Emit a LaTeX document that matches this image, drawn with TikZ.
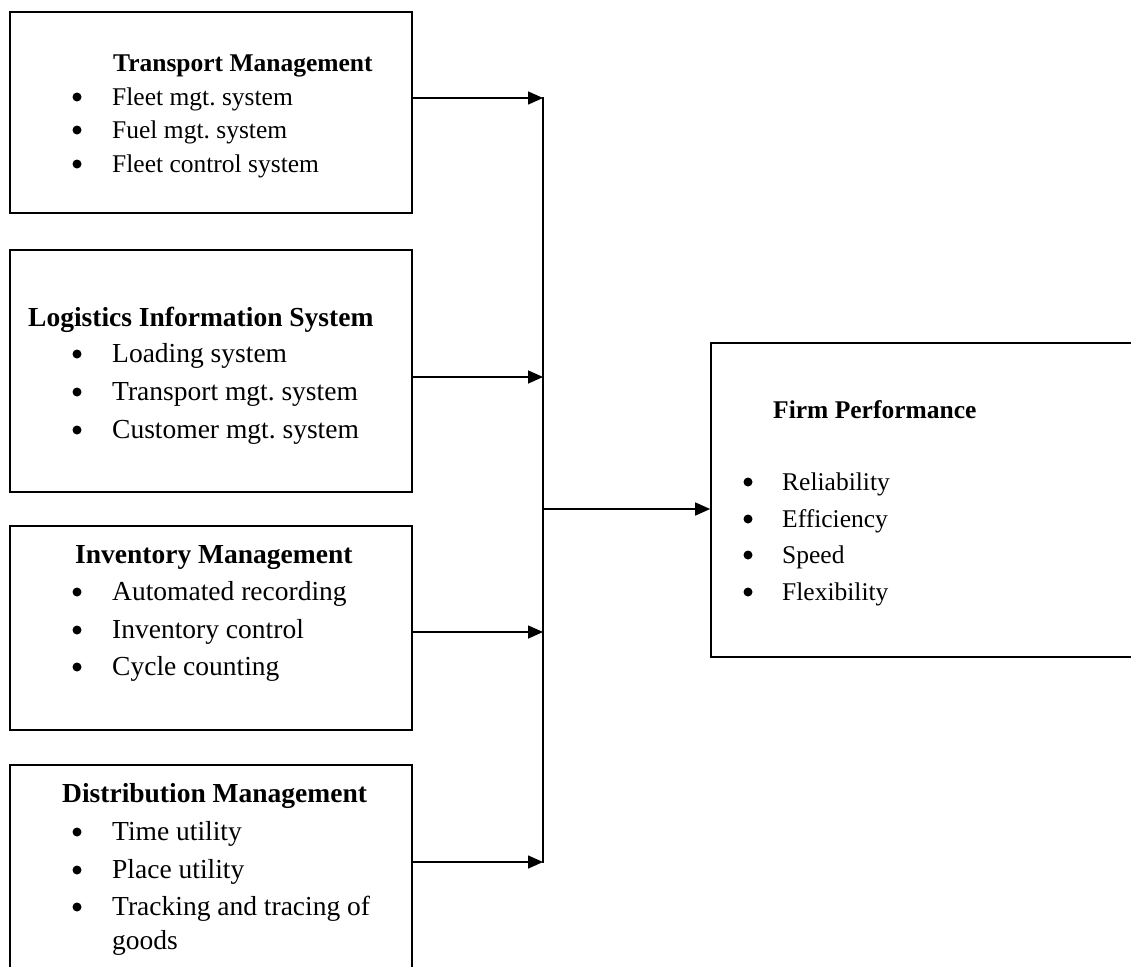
\documentclass[tikz,border=0pt]{standalone}
\usepackage{fontspec}
\setmainfont{Liberation Serif}
\frenchspacing
\usetikzlibrary{arrows.meta}
\begin{document}
\begin{tikzpicture}[x=1pt,y=-1pt,
  frame/.style={draw=black, line width=1.7pt, inner sep=0pt},
  txt/.style={anchor=base west, inner sep=0pt, font=\fontsize{27.5}{30}\selectfont},
  smalltxt/.style={anchor=base west, inner sep=0pt, font=\fontsize{25.5}{28}\selectfont},
  head/.style={anchor=base west, inner sep=0pt, font=\fontsize{27.5}{30}\selectfont\bfseries},
  smallhead/.style={anchor=base west, inner sep=0pt, font=\fontsize{25.5}{28}\selectfont\bfseries},
  dot/.style={circle, fill=black, inner sep=0pt, minimum size=9pt, yshift=8pt},
  link/.style={line width=1.6pt, -{Triangle[length=15pt,width=13pt]}},
  bus/.style={line width=1.6pt}]
\useasboundingbox (0,0) rectangle (1131,966);

% frames
\node[frame, minimum width=402pt, minimum height=201pt] (b1) at (211,112.5) {};
\node[frame, minimum width=402pt, minimum height=242pt] (b2) at (211,371) {};
\node[frame, minimum width=402pt, minimum height=204pt] (b3) at (211,628) {};
\node[frame, minimum width=402pt, minimum height=230pt] (b4) at (211,880) {};
\node[frame, minimum width=440pt, minimum height=314pt] (fp) at (931,500) {};

% Transport Management
\node[smallhead] (t1) at (113,71) {Transport Management};
\node[dot] (t1d1) at (77,105) {};
\node[smalltxt] (t1i1) at (112,105) {Fleet mgt. system};
\node[dot] (t1d2) at (77,138) {};
\node[smalltxt] (t1i2) at (112,138) {Fuel mgt. system};
\node[dot] (t1d3) at (77,172) {};
\node[smalltxt] (t1i3) at (112,172) {Fleet control system};

% Logistics Information System
\node[head] (t2) at (28,326) {Logistics Information System};
\node[dot] (t2d1) at (77,362) {};
\node[txt] (t2i1) at (112,362) {Loading system};
\node[dot] (t2d2) at (77,400) {};
\node[txt] (t2i2) at (112,400) {Transport mgt. system};
\node[dot] (t2d3) at (77,438) {};
\node[txt] (t2i3) at (112,438) {Customer mgt. system};

% Inventory Management
\node[head] (t3) at (75,563) {Inventory Management};
\node[dot] (t3d1) at (77,600) {};
\node[txt] (t3i1) at (112,600) {Automated recording};
\node[dot] (t3d2) at (77,638) {};
\node[txt] (t3i2) at (112,638) {Inventory control};
\node[dot] (t3d3) at (77,675) {};
\node[txt] (t3i3) at (112,675) {Cycle counting};

% Distribution Management
\node[head] (t4) at (62,802) {Distribution Management};
\node[dot] (t4d1) at (77,840) {};
\node[txt] (t4i1) at (112,840) {Time utility};
\node[dot] (t4d2) at (77,878) {};
\node[txt] (t4i2) at (112,878) {Place utility};
\node[dot] (t4d3) at (77,915) {};
\node[txt] (t4i3) at (112,915) {Tracking and tracing of};
\node[txt] (t4i4) at (112,949) {goods};

% Firm Performance
\node[smallhead] (t5) at (773,418) {Firm Performance};
\node[dot] (t5d1) at (748,490) {};
\node[smalltxt] (t5i1) at (782,490) {Reliability};
\node[dot] (t5d2) at (748,527) {};
\node[smalltxt] (t5i2) at (782,527) {Efficiency};
\node[dot] (t5d3) at (748,563) {};
\node[smalltxt] (t5i3) at (782,563) {Speed};
\node[dot] (t5d4) at (748,600) {};
\node[smalltxt] (t5i4) at (782,600) {Flexibility};

% collecting bus
\coordinate (j1) at (543,98);
\coordinate (j2) at (543,377);
\coordinate (j3) at (543,632);
\coordinate (j4) at (543,862);
\coordinate (jm) at (543,509);
\draw[bus] ([yshift=0.8pt]j1) -- ([yshift=-0.8pt]j4);

\draw[link] (b1.east |- j1) -- (j1);
\draw[link] (b2.east |- j2) -- (j2);
\draw[link] (b3.east |- j3) -- (j3);
\draw[link] (b4.east |- j4) -- (j4);
\draw[link] (jm) -- (fp.west |- jm);
\end{tikzpicture}
\end{document}
